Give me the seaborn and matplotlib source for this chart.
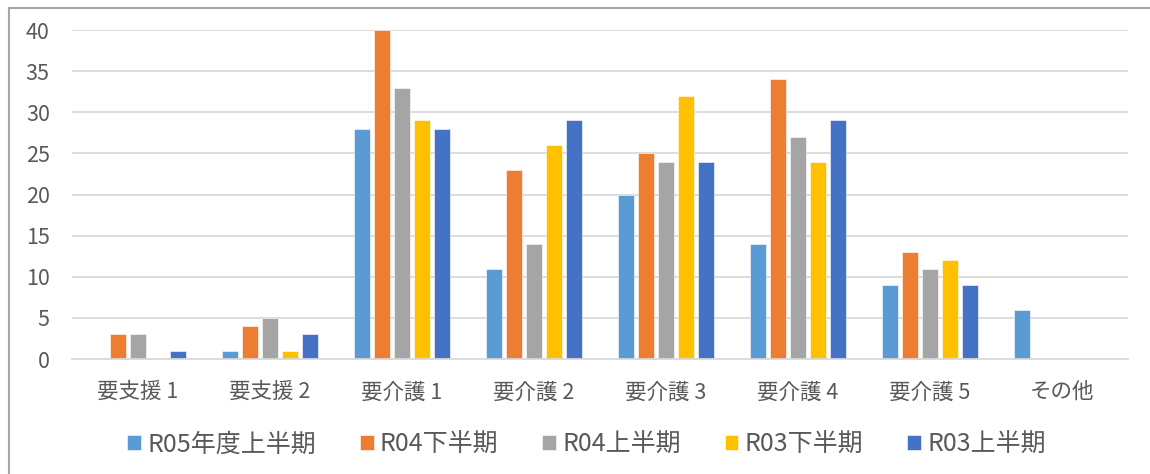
import matplotlib
matplotlib.use("Agg")
import matplotlib.pyplot as plt
import pandas as pd
import seaborn as sns
from matplotlib.patches import Rectangle

# ---------------------------------------------------------------------------
# Data
# ---------------------------------------------------------------------------
categories = ["要支援 1", "要支援 2", "要介護 1", "要介護 2", "要介護 3", "要介護 4", "要介護 5", "その他"]
series_names = ["R05年度上半期", "R04下半期", "R04上半期", "R03下半期", "R03上半期"]

r05_first = [0, 1, 28, 11, 20, 14, 9, 6]
r04_second = [3, 4, 40, 23, 25, 34, 13, 0]
r04_first = [3, 5, 33, 14, 24, 27, 11, 0]
r03_second = [0, 1, 29, 26, 32, 24, 12, 0]
r03_first = [1, 3, 28, 29, 24, 29, 9, 0]

colors = ["#5B9BD5", "#ED7D31", "#A5A5A5", "#FFC000", "#4472C4"]

sns.set_theme(style="white")
plt.rcParams["font.family"] = ["Noto Sans CJK JP", "DejaVu Sans"]

TEXT_GRAY = "#595959"
GRID_GRAY = "#D9D9D9"


def main():
    values = [r05_first, r04_second, r04_first, r03_second, r03_first]
    df = pd.DataFrame(
        [
            {"category": cat, "series": name, "count": v}
            for name, vals in zip(series_names, values)
            for cat, v in zip(categories, vals)
        ]
    )

    fig = plt.figure(figsize=(11.5, 4.74), dpi=100)
    ax = fig.add_axes([0.0626, 0.2426, 0.9184, 0.6941])

    sns.barplot(
        data=df, x="category", y="count", hue="series",
        order=categories, hue_order=series_names, palette=colors,
        width=0.76, gap=0.2, saturation=1, ax=ax,
        edgecolor="white", linewidth=0.4,
    )

    ax.set_ylim(0, 40)
    ax.set_xlim(-0.5, len(categories) - 0.5)
    ax.set_yticks(range(0, 41, 5))
    ax.yaxis.grid(True, color=GRID_GRAY, linewidth=1.3)
    ax.set_axisbelow(True)
    for side in ["top", "right", "left"]:
        ax.spines[side].set_visible(False)
    ax.spines["bottom"].set_color(GRID_GRAY)
    ax.spines["bottom"].set_linewidth(1.3)
    ax.tick_params(axis="both", length=0, colors=TEXT_GRAY, labelsize=15.5)
    ax.tick_params(axis="x", pad=16)
    ax.tick_params(axis="y", pad=16)
    ax.set_xlabel("")
    ax.set_ylabel("")

    handles, labels = ax.get_legend_handles_labels()
    ax.get_legend().remove()
    fig.legend(
        handles, labels, loc="center", bbox_to_anchor=(0.51, 0.062),
        ncol=5, frameon=False, fontsize=18, labelcolor=TEXT_GRAY,
        handlelength=0.55, handleheight=0.55, handletextpad=0.25,
        columnspacing=1.75,
    )

    # chart-area border like the spreadsheet export
    fig.patches.append(
        Rectangle((0.0078, -0.05), 1.2, 0.983 + 0.05, transform=fig.transFigure,
                  fill=False, edgecolor="#A6A6A6", linewidth=1.5)
    )

    fig.savefig("out.png", dpi=100)
    plt.close(fig)


if __name__ == "__main__":
    main()
